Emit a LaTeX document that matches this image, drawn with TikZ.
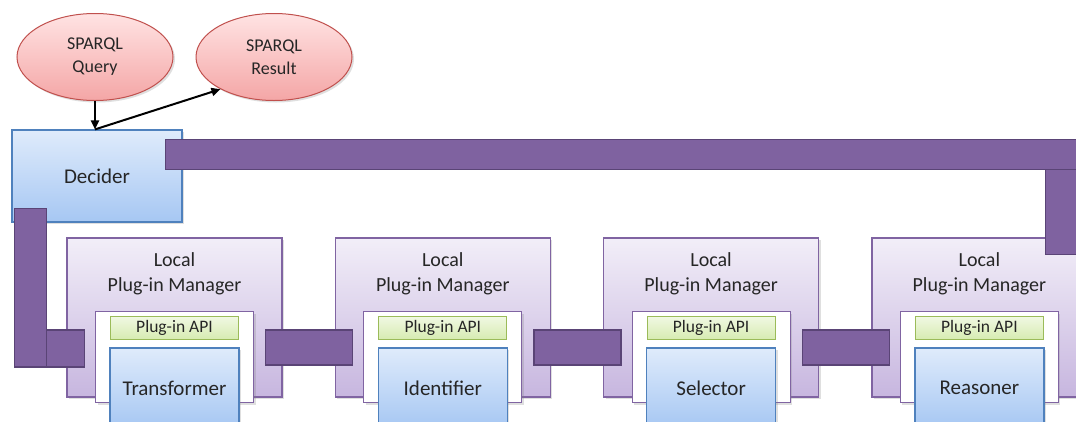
\documentclass[tikz,border=0pt]{standalone}
\usepackage{fontspec}
\setmainfont{Carlito}
\usepackage{xcolor}
\usetikzlibrary{arrows.meta, calc, positioning, shapes.geometric, shadows}

\definecolor{redline}{HTML}{C0504D}
\definecolor{redtop}{HTML}{FFE3E3}
\definecolor{redbot}{HTML}{F4A6A6}
\definecolor{blueline}{HTML}{4F81BD}
\definecolor{bluetop}{HTML}{DFEBFB}
\definecolor{bluebot}{HTML}{A6C7F3}
\definecolor{mgrline}{HTML}{8064A2}
\definecolor{mgrtop}{HTML}{F2EEF8}
\definecolor{mgrbot}{HTML}{C7B6DF}
\definecolor{apiline}{HTML}{9BBB59}
\definecolor{apitop}{HTML}{F0F8E2}
\definecolor{apibot}{HTML}{D6EBB0}
\definecolor{pipefill}{HTML}{7F62A0}
\definecolor{pipeline}{HTML}{5A4476}
\definecolor{ink}{HTML}{262626}

\tikzset{
  soft/.style={drop shadow={shadow xshift=2pt, shadow yshift=-2pt, opacity=0.25}},
  sparql/.style={ellipse, draw=redline, line width=1pt, top color=redtop, bottom color=redbot,
    minimum width=156pt, minimum height=87pt, inner sep=0pt, align=center, text=ink,
    font=\fontsize{18}{23}\selectfont, soft},
  decider/.style={rectangle, draw=blueline, line width=1.2pt, top color=bluetop, bottom color=bluebot,
    minimum width=170pt, minimum height=92pt, text=ink, font=\fontsize{21}{25}\selectfont, soft},
  manager/.style={rectangle, draw=mgrline, line width=1.3pt, top color=mgrtop, bottom color=mgrbot,
    minimum width=215pt, minimum height=159pt, soft},
  mgrtext/.style={align=center, inner sep=0pt, text=ink, font=\fontsize{20}{25}\selectfont},
  slot/.style={rectangle, draw=mgrline, line width=0.8pt, fill=white, minimum width=158pt,
    minimum height=91pt, soft},
  api/.style={rectangle, draw=apiline, line width=1pt, top color=apitop, bottom color=apibot,
    minimum width=128pt, minimum height=23pt, inner sep=0pt, text=ink,
    font=\fontsize{17.5}{20}\selectfont},
  worker/.style={decider, minimum width=129pt, minimum height=80pt},
  pipe/.style={draw=pipeline, fill=pipefill, line width=1.3pt},
  link/.style={draw=black, line width=2pt, -{Triangle[length=9pt,width=8pt]}}
}

\begin{document}
\begin{tikzpicture}[x=1pt, y=-1pt]
\clip (0,0) rectangle (1076,421);
\fill[white] (0,0) rectangle (1076,421);

\node (query) [sparql] at (95,57) {SPARQL\\Query};
\node (result) [sparql] at (274,57) {SPARQL\\Result};
\node (decider) [decider] at (97,176) {Decider};

\node (m1) [manager] at (174.5,317.5) {};
\node (m2) [manager, right=52pt of m1] {};
\node (m3) [manager, right=52pt of m2] {};
\node (m4) [manager, right=52pt of m3] {};

\foreach \m/\w in {m1/Transformer, m2/Identifier, m3/Selector, m4/Reasoner} {
  \node (\m-lbl) [mgrtext] at ([yshift=-36pt]\m.north) {Local\\Plug-in Manager};
  \node (\m-slot) [slot, below=74pt of \m.north] {};
  \node (\m-api) [api, below=5pt of \m-slot.north] {Plug-in API};
  \node (\m-work) [worker, below=7pt of \m-api] {\w};
}

\coordinate (hit) at (query.south |- decider.north);
\draw[link] (query.south) -- (hit);
\draw[link] (hit) -- (result.211);

\foreach \a/\b in {m1/m2, m2/m3, m3/m4}
  \draw[pipe] ([shift={(-17pt,-12.5pt)}]\a.east) rectangle ([shift={(18pt,-47.5pt)}]\b.west);

\draw[pipe] ([shift={(3pt,14pt)}]decider.south west) rectangle ([shift={(-20pt,-49.5pt)}]m1.west);
\draw[pipe] ([shift={(-20pt,-12.5pt)}]m1.west) rectangle ([shift={(18pt,-49.5pt)}]m1.west);

\draw[pipe] ([shift={(-42pt,68pt)}]m4.north east) rectangle ([shift={(-11pt,-17pt)}]m4.north east);
\draw[pipe] ([shift={(-17pt,-10pt)}]decider.north east) rectangle ([shift={(-11pt,68pt)}]m4.north east);
\end{tikzpicture}
\end{document}
